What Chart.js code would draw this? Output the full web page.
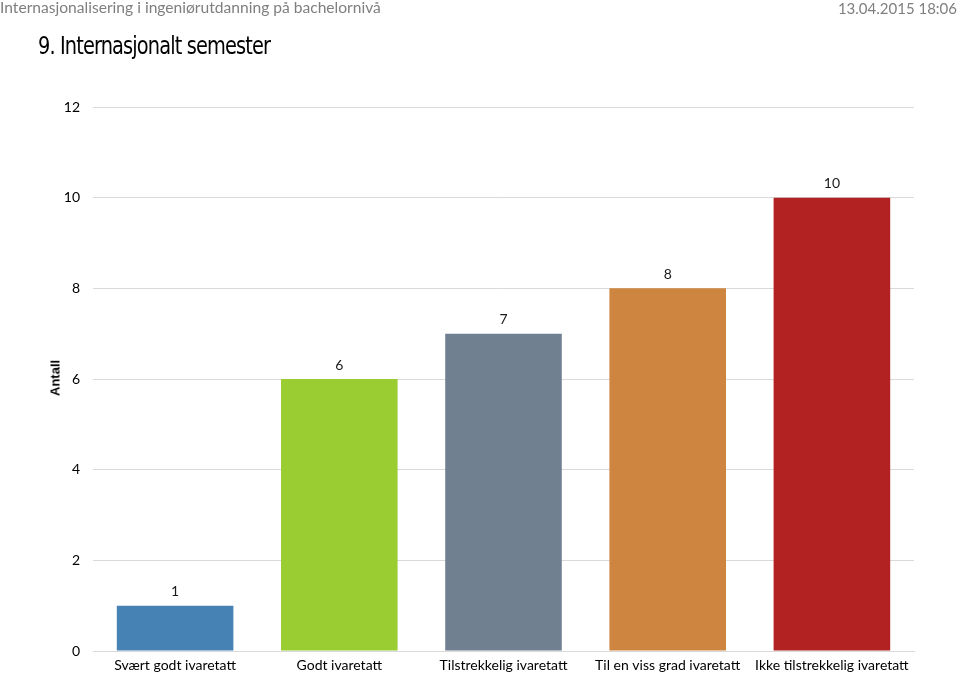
<!DOCTYPE html>
<html>
<head>
<meta charset="utf-8">
<script src="https://cdn.jsdelivr.net/npm/chart.js@4/dist/chart.umd.min.js"></script>
<style>
html,body{margin:0;padding:0;background:#fff;}
#wrap{position:relative;width:960px;height:676px;overflow:hidden;}
#c{position:absolute;left:0;top:0;}
.hdr{position:absolute;font-family:Lato,"Open Sans",sans-serif;color:#7f7f7f;font-size:16px;white-space:nowrap;}
#title{position:absolute;left:38px;top:31px;font-family:"Liberation Sans Narrow","DejaVu Sans Condensed",sans-serif;font-size:25px;letter-spacing:-1px;color:#000;white-space:nowrap;transform:scaleX(0.86);transform-origin:0 50%;}
#ytitle{position:absolute;left:55px;top:378px;transform:translate(-50%,-50%) rotate(-90deg);font-family:"Liberation Sans",Arial,sans-serif;font-weight:bold;font-size:13px;color:#000;white-space:nowrap;}
</style>
</head>
<body>
<div id="wrap">
<canvas id="c" width="960" height="676"></canvas>
<div class="hdr" style="left:0;top:-2px;font-size:15.6px;">Internasjonalisering i ingeniørutdanning på bachelornivå</div>
<div class="hdr" style="right:3px;top:-1px;font-size:15px;">13.04.2015 18:06</div>
<div id="title">9. Internasjonalt semester</div>
<div id="ytitle">Antall</div>
</div>
<script>
const categories = ["Svært godt ivaretatt","Godt ivaretatt","Tilstrekkelig ivaretatt","Til en viss grad ivaretatt","Ikke tilstrekkelig ivaretatt"];
const values = [1, 6, 7, 8, 10];
const barColors = ["#4682b4","#9acd32","#708090","#cd853f","#b22222"];
const yTicks = [0, 2, 4, 6, 8, 10, 12];

const FONT = "Lato, 'Open Sans', sans-serif";

const valueLabels = {
  id: 'valueLabels',
  afterDatasetsDraw(chart) {
    const ctx = chart.ctx;
    const meta = chart.getDatasetMeta(0);
    ctx.save();
    ctx.font = "14px " + FONT;
    ctx.fillStyle = "#1a1a1a";
    ctx.textAlign = "center";
    ctx.textBaseline = "middle";
    meta.data.forEach((bar, i) => {
      ctx.fillText(String(values[i]), bar.x, bar.y - 14);
    });
    ctx.restore();
  }
};

new Chart(document.getElementById('c'), {
  type: 'bar',
  data: {
    labels: categories,
    datasets: [{
      data: values,
      backgroundColor: barColors,
      borderWidth: 0,
      barPercentage: 0.71,
      categoryPercentage: 1.0
    }]
  },
  options: {
    responsive: false,
    animation: false,
    events: [],
    layout: { padding: { left: 0, right: 46, top: 107, bottom: 0 } },
    plugins: { legend: { display: false }, tooltip: { enabled: false }, title: { display: false } },
    scales: {
      x: {
        grid: { display: false, drawTicks: false },
        border: { display: true, color: "#d9d9d9", width: 1 },
        ticks: { color: "#000", font: { family: FONT, size: 14 }, padding: 6, maxRotation: 0, autoSkip: false },
        afterFit(scale) { scale.height = 25; }
      },
      y: {
        min: 0, max: 12,
        afterBuildTicks(scale) { scale.ticks = yTicks.map(v => ({ value: v })); },
        grid: { color: "#d9d9d9", drawTicks: false, lineWidth: 1 },
        border: { display: false },
        ticks: { color: "#000", font: { family: FONT, size: 14 }, padding: 13 },
        afterFit(scale) { scale.width = 93; }
      }
    }
  },
  plugins: [valueLabels]
});
</script>
</body>
</html>
